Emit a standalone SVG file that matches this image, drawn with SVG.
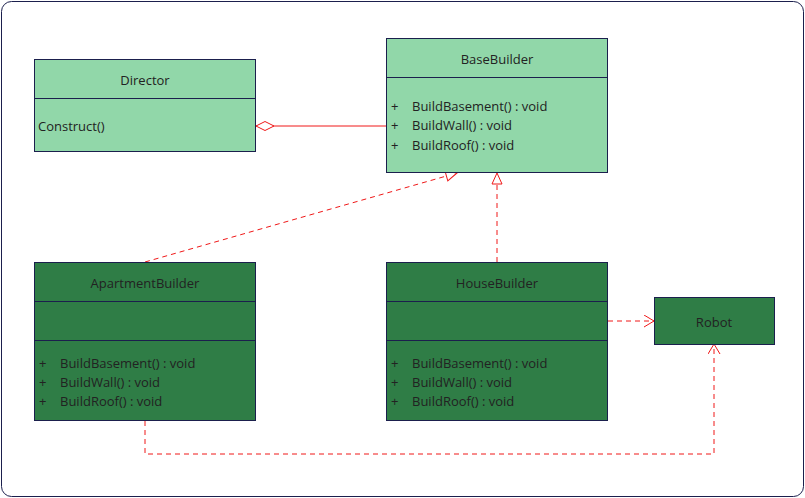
<svg xmlns="http://www.w3.org/2000/svg" width="805" height="498" viewBox="0 0 805 498">
<style>
.light{fill:#91d7a9;stroke:#1b1f4d;stroke-width:1}
.dark{fill:#2f7d46;stroke:#1b1f4d;stroke-width:1}
.div{stroke:#1b1f4d;stroke-width:1}
text{font-family:"Open Sans","Noto Sans","DejaVu Sans",sans-serif;font-size:13px;fill:#222}
.c{text-anchor:middle}
.conn{fill:none;stroke:#f01818;stroke-width:1}
.dash{stroke-dasharray:5,4}
</style>
<defs>
<marker id="tri" markerWidth="14" markerHeight="14" refX="12" refY="6" orient="auto" markerUnits="userSpaceOnUse"><path d="M1,1 L12,6 L1,11 Z" fill="#fff" stroke="#f01818" stroke-width="1"/></marker>
<marker id="open" markerWidth="14" markerHeight="14" refX="12" refY="6" orient="auto" markerUnits="userSpaceOnUse"><path d="M2,0 L12,6 L2,12" fill="none" stroke="#f01818" stroke-width="1"/></marker>
<marker id="dia" markerWidth="22" markerHeight="12" refX="1" refY="6" orient="auto" markerUnits="userSpaceOnUse"><path d="M1,6 L10,1.5 L19,6 L10,10.5 Z" fill="#fff" stroke="#f01818" stroke-width="1"/></marker>
</defs>
<rect x="1.5" y="1.5" width="802" height="495" rx="10" fill="#fff" stroke="#1b1f4d"/>
<g id="connectors">
<path class="conn" d="M256,126 L386,126" marker-start="url(#dia)"/>
<path class="conn dash" d="M145,262 L457,173" marker-end="url(#tri)"/>
<path class="conn dash" d="M497,262 L497,173" marker-end="url(#tri)"/>
<path class="conn dash" d="M608,321 L654,321" marker-end="url(#open)"/>
<path class="conn dash" d="M145,421 L145,454 L714,454 L714,344" marker-end="url(#open)"/>
</g>
<g id="director">
<rect class="light" x="34.5" y="59.5" width="221" height="92"/>
<line class="div" x1="34.5" y1="98.5" x2="255.5" y2="98.5"/>
<text class="c" x="145" y="85">Director</text>
<text x="38" y="131">Construct()</text>
</g>
<g id="basebuilder">
<rect class="light" x="386.5" y="38.5" width="221" height="134"/>
<line class="div" x1="386.5" y1="77.5" x2="607.5" y2="77.5"/>
<text class="c" x="497" y="64">BaseBuilder</text>
<text x="391" y="111">+</text><text x="412" y="111">BuildBasement() : void</text>
<text x="391" y="130">+</text><text x="412" y="130">BuildWall() : void</text>
<text x="391" y="150">+</text><text x="412" y="150">BuildRoof() : void</text>
</g>
<g id="apartmentbuilder">
<rect class="dark" x="34.5" y="262.5" width="221" height="158"/>
<line class="div" x1="34.5" y1="301.5" x2="255.5" y2="301.5"/>
<line class="div" x1="34.5" y1="340.5" x2="255.5" y2="340.5"/>
<text class="c" x="145" y="288">ApartmentBuilder</text>
<text x="39" y="368">+</text><text x="60" y="368">BuildBasement() : void</text>
<text x="39" y="387">+</text><text x="60" y="387">BuildWall() : void</text>
<text x="39" y="406">+</text><text x="60" y="406">BuildRoof() : void</text>
</g>
<g id="housebuilder">
<rect class="dark" x="386.5" y="262.5" width="221" height="158"/>
<line class="div" x1="386.5" y1="301.5" x2="607.5" y2="301.5"/>
<line class="div" x1="386.5" y1="340.5" x2="607.5" y2="340.5"/>
<text class="c" x="497" y="288">HouseBuilder</text>
<text x="391" y="368">+</text><text x="412" y="368">BuildBasement() : void</text>
<text x="391" y="387">+</text><text x="412" y="387">BuildWall() : void</text>
<text x="391" y="406">+</text><text x="412" y="406">BuildRoof() : void</text>
</g>
<g id="robot">
<rect class="dark" x="654.5" y="297.5" width="120" height="47"/>
<text class="c" x="714" y="327">Robot</text>
</g>
</svg>
